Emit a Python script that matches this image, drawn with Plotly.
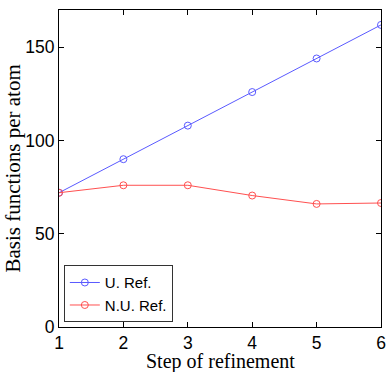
import plotly.graph_objects as go

steps = [1, 2, 3, 4, 5, 6]
uniform_ref = [72, 90, 108, 126, 144, 162]
nonuniform_ref = [72, 76, 76, 70.5, 66, 66.5]

fig = go.Figure()
fig.add_trace(go.Scatter(
    x=steps, y=uniform_ref, name="U. Ref.", mode="lines+markers",
    line=dict(color="#5a5aff", width=1),
    marker=dict(symbol="circle-open", size=7, color="#5a5aff", line=dict(width=1)),
))
fig.add_trace(go.Scatter(
    x=steps, y=nonuniform_ref, name="N.U. Ref.", mode="lines+markers",
    line=dict(color="#ff5050", width=1),
    marker=dict(symbol="circle-open", size=7, color="#ff5050", line=dict(width=1)),
))

axis_common = dict(
    showgrid=False, zeroline=False, showline=True, mirror="ticks",
    linecolor="black", linewidth=1, ticks="inside", ticklen=5,
    tickcolor="black", automargin=False,
    tickfont=dict(family="Liberation Sans", size=17.5, color="black"),
)

fig.update_layout(
    width=390, height=372,
    margin=dict(l=59, r=9, t=10, b=45),
    plot_bgcolor="white", paper_bgcolor="white",
    xaxis=dict(range=[1, 6], tickvals=steps, ticklabelstandoff=0, **axis_common),
    yaxis=dict(range=[0, 170], tickvals=[0, 50, 100, 150], **axis_common),
    legend=dict(x=0.015, y=0.015, xanchor="left", yanchor="bottom",
                bgcolor="white", bordercolor="#333333", borderwidth=1,
                font=dict(family="Liberation Sans", size=15, color="black"),
                itemwidth=30, tracegroupgap=0),
    showlegend=True,
)

# axis titles placed as annotations to pin their position in the margins
fig.add_annotation(text="Step of refinement", xref="paper", yref="paper",
                   x=0.5, y=0, yshift=-34, xanchor="center", yanchor="middle",
                   showarrow=False, borderpad=0,
                   font=dict(family="Liberation Serif", size=20, color="black"))
fig.add_annotation(text="Basis functions per atom", xref="paper", yref="paper",
                   x=0, y=0.5, xshift=-47, xanchor="center", yanchor="middle",
                   textangle=-90, showarrow=False, borderpad=0,
                   font=dict(family="Liberation Serif", size=21, color="black"))

# drop the default 8px body margin so the figure fills the window
fig.write_html("out.html", config={"displayModeBar": False},
               post_script="document.body.style.margin='0';")
